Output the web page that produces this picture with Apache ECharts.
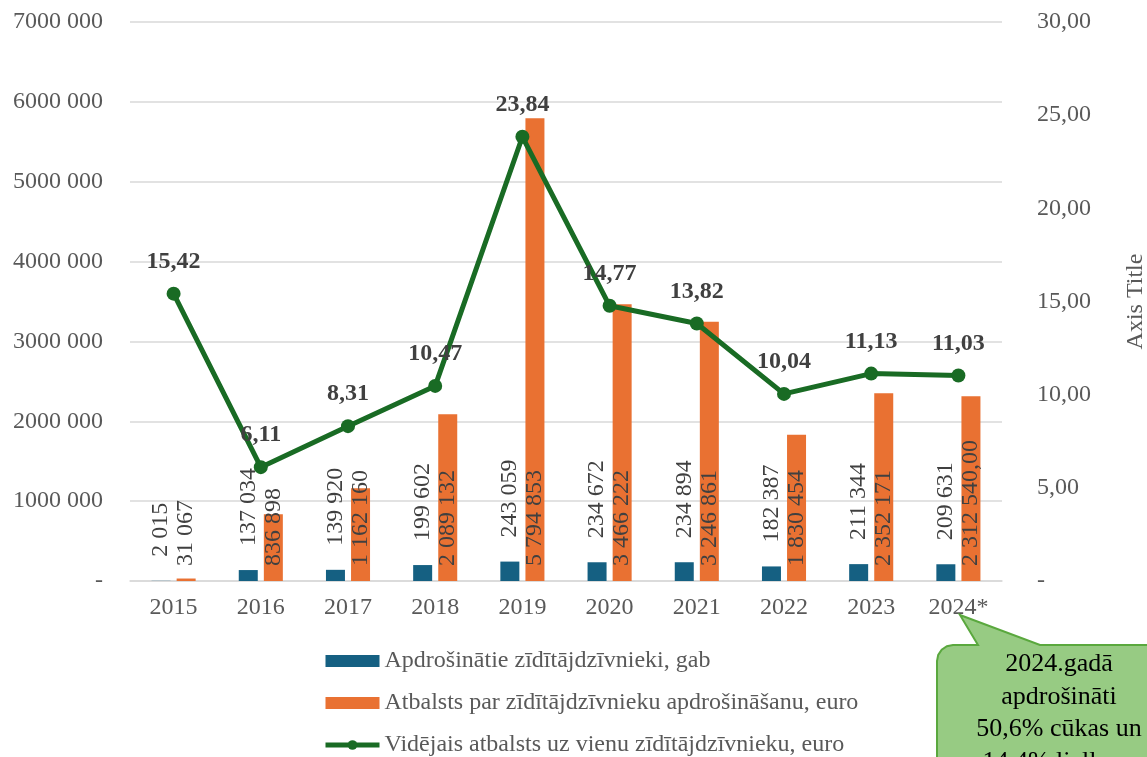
<!DOCTYPE html>
<html>
<head>
<meta charset="utf-8">
<style>
  html, body { margin: 0; padding: 0; background: #fff; }
  #chart { width: 1147px; height: 757px; }
</style>
<script src="https://cdn.jsdelivr.net/npm/echarts@6/dist/echarts.min.js"></script>
</head>
<body>
<div id="chart"></div>
<script>
const years = ["2015", "2016", "2017", "2018", "2019", "2020", "2021", "2022", "2023", "2024*"];
const animals = [2015, 137034, 139920, 199602, 243059, 234672, 234894, 182387, 211344, 209631];
const support = [31067, 836898, 1162160, 2089132, 5794853, 3466222, 3246861, 1830454, 2352171, 2312540];
const average = [15.42, 6.11, 8.31, 10.47, 23.84, 14.77, 13.82, 10.04, 11.13, 11.03];
const leftTicks = ["-", "1000 000", "2000 000", "3000 000", "4000 000", "5000 000", "6000 000", "7000 000"];
const rightTicks = ["-", "5,00", "10,00", "15,00", "20,00", "25,00", "30,00"];

const names = [
  "Apdrošinātie zīdītājdzīvnieki, gab",
  "Atbalsts par zīdītājdzīvnieku apdrošināšanu, euro",
  "Vidējais atbalsts uz vienu zīdītājdzīvnieku, euro"
];

const FONT = "'Liberation Serif', 'Times New Roman', serif";
const FS = 24;

// 137034 -> "137 034"
function spaced(v) {
  return String(v).replace(/\B(?=(\d{3})+(?!\d))/g, " ");
}

// callout outline: rounded top-left corner + pointer to the 2024* label
const calloutPts = [
  [953, 645], [978, 645], [960, 615], [1040, 645], [1170, 645], [1170, 790], [937, 790],
  [937, 661], [938.2, 654.9], [941.7, 649.7], [946.9, 646.2]
];

const chart = echarts.init(document.getElementById("chart"));
chart.setOption({
  animation: false,
  textStyle: { fontFamily: FONT },
  grid: { left: 130, right: 145, top: 22, bottom: 176, outerBoundsMode: "none", containLabel: false },
  legend: {
    orient: "vertical",
    left: 323,
    top: 649,
    padding: 0,
    itemWidth: 54,
    itemHeight: 12,
    itemGap: 18,
    textStyle: { fontFamily: FONT, fontSize: FS, color: "#595959" },
    data: [
      { name: names[0], icon: "rect" },
      { name: names[1], icon: "rect" },
      { name: names[2], lineStyle: { width: 5 } }
    ]
  },
  xAxis: {
    type: "category",
    data: years,
    axisLine: { lineStyle: { color: "#d9d9d9", width: 1.5 } },
    axisTick: { show: false },
    axisLabel: { color: "#595959", fontSize: FS, margin: 15, fontFamily: FONT }
  },
  yAxis: [
    {
      type: "value",
      min: 0,
      max: 7000000,
      interval: 1000000,
      axisLine: { show: false },
      axisTick: { show: false },
      splitLine: { lineStyle: { color: "#d9d9d9", width: 1.5 } },
      axisLabel: {
        color: "#595959",
        fontSize: FS,
        margin: 27,
        fontFamily: FONT,
        formatter: v => leftTicks[Math.round(v / 1000000)]
      }
    },
    {
      type: "value",
      min: 0,
      max: 30,
      interval: 5,
      name: "Axis Title",
      nameLocation: "middle",
      nameRotate: 90,
      nameGap: 122,
      nameTextStyle: { color: "#595959", fontSize: FS, fontFamily: FONT },
      axisLine: { show: false },
      axisTick: { show: false },
      splitLine: { show: false },
      axisLabel: {
        color: "#595959",
        fontSize: FS,
        margin: 35,
        fontFamily: FONT,
        formatter: v => rightTicks[Math.round(v / 5)]
      }
    }
  ],
  series: [
    {
      name: names[0],
      type: "bar",
      data: animals,
      barWidth: 19,
      barGap: "32%",
      itemStyle: { color: "#156082" },
      label: {
        show: true,
        position: "top",
        distance: 24,
        rotate: 90,
        align: "left",
        verticalAlign: "middle",
        color: "#404040",
        fontSize: FS,
        fontFamily: FONT,
        formatter: p => spaced(p.value)
      }
    },
    {
      name: names[1],
      type: "bar",
      data: support,
      barWidth: 19,
      itemStyle: { color: "#E97132" },
      label: {
        show: true,
        position: "insideBottom",
        distance: 15,
        rotate: 90,
        align: "left",
        verticalAlign: "middle",
        color: "#404040",
        fontSize: FS,
        fontFamily: FONT,
        formatter: p => spaced(p.value) + (p.dataIndex === support.length - 1 ? ",00" : "")
      }
    },
    {
      name: names[2],
      type: "line",
      yAxisIndex: 1,
      data: average,
      symbol: "circle",
      symbolSize: 14,
      z: 5,
      lineStyle: { color: "#196B24", width: 5 },
      itemStyle: { color: "#196B24" },
      label: {
        show: true,
        position: "top",
        distance: 13,
        color: "#404040",
        fontSize: FS,
        fontWeight: "bold",
        fontFamily: FONT,
        formatter: p => p.value.toFixed(2).replace(".", ",")
      }
    }
  ],
  graphic: [
    {
      type: "polygon",
      z: 100,
      shape: { points: calloutPts },
      style: { fill: "#97cb83", stroke: "#5aa83e", lineWidth: 2 }
    },
    {
      type: "text",
      z: 101,
      x: 1059,
      y: 648,
      style: {
        text: "2024.gadā\napdrošināti\n50,6% cūkas un\n14,4% liellopu",
        align: "center",
        verticalAlign: "top",
        lineHeight: 32.5,
        fill: "#000",
        fontSize: 26,
        fontFamily: FONT
      }
    }
  ]
});
</script>
</body>
</html>
